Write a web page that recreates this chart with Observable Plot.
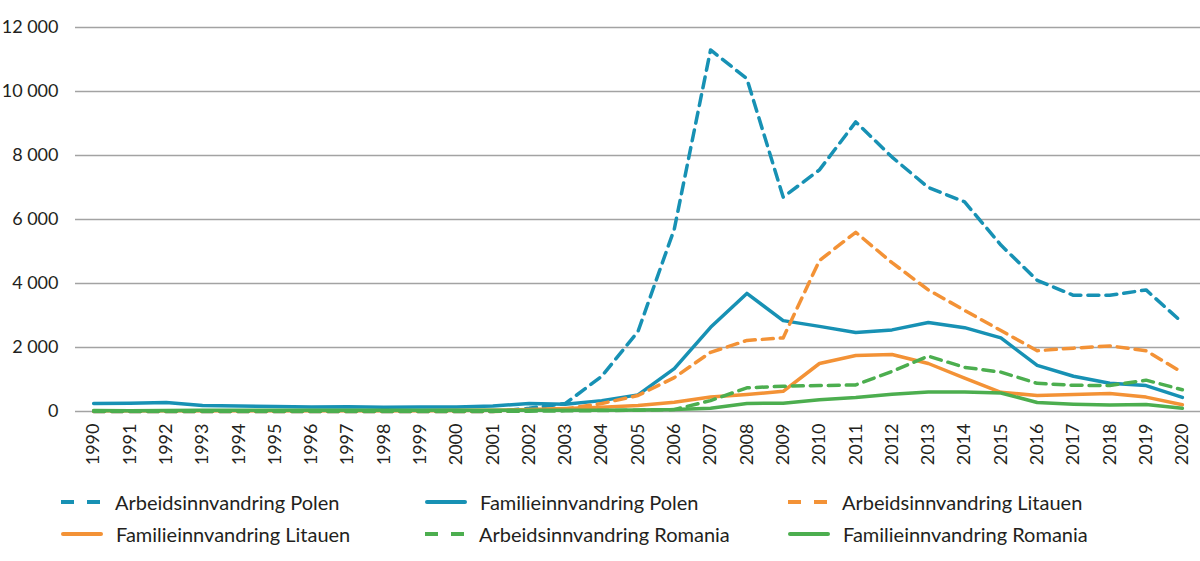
<!DOCTYPE html>
<html>
<head>
<meta charset="utf-8">
<script src="https://cdn.jsdelivr.net/npm/d3@7"></script>
<script src="https://cdn.jsdelivr.net/npm/@observablehq/plot@0.6"></script>
<style>
  html, body { margin: 0; padding: 0; background: #fff; }
  body { width: 1200px; height: 561px; overflow: hidden; font-family: Lato, "Open Sans", sans-serif; }
  #chart svg { display: block; }
  #legend { position: relative; height: 91px; font-size: 20px; color: #231f20; }
  .item { position: absolute; display: flex; align-items: center; white-space: nowrap; }
  .sw { width: 40px; height: 4px; margin-right: 14px; border-radius: 2px; }
</style>
</head>
<body>
<div id="chart"></div>
<div id="legend"></div>
<script>
const years = d3.range(1990, 2021);
const seriesNames = [
  "Arbeidsinnvandring Polen",
  "Familieinnvandring Polen",
  "Arbeidsinnvandring Litauen",
  "Familieinnvandring Litauen",
  "Arbeidsinnvandring Romania",
  "Familieinnvandring Romania"
];
const arbeidPolen = [0,0,0,0,0,0,0,0,0,0,0,0,100,250,1100,2500,5700,11300,10400,6700,7550,9050,7950,7000,6550,5200,4100,3630,3630,3800,2780];
const familiePolen = [250,260,280,190,170,160,140,150,130,140,140,170,250,230,340,520,1340,2630,3690,2840,2660,2470,2550,2780,2620,2300,1440,1100,880,810,440];
const arbeidLitauen = [0,0,0,0,0,0,0,0,0,0,0,0,30,80,250,500,1060,1850,2220,2300,4720,5600,4650,3800,3160,2530,1900,1980,2050,1900,1220];
const familieLitauen = [20,20,20,20,20,20,20,20,20,20,30,40,60,90,130,190,290,450,530,630,1500,1750,1780,1500,1040,600,500,530,560,450,210];
const arbeidRomania = [10,10,10,10,10,10,10,10,10,10,10,10,10,20,30,40,60,340,740,790,810,830,1250,1730,1380,1230,880,820,810,980,680];
const familieRomania = [30,20,30,40,40,40,40,40,40,40,40,40,40,40,40,50,60,100,250,260,370,440,540,610,610,580,280,230,200,220,100];
const yTicks = [0, 2000, 4000, 6000, 8000, 10000, 12000];

const colors = ["#1791b4", "#1791b4", "#f39236", "#f39236", "#4cae4f", "#4cae4f"];
const dashed = [true, false, true, false, true, false];
const values = [arbeidPolen, familiePolen, arbeidLitauen, familieLitauen, arbeidRomania, familieRomania];

const rows = seriesNames.map((name, i) => years.map((y, j) => ({series: name, year: y, value: values[i][j]})));

const fmtNum = v => v === 0 ? "0" : String(v).replace(/(\d)(?=(\d{3})+$)/g, "$1 ");

const plot = Plot.plot({
  width: 1200,
  height: 470,
  marginTop: 27,
  marginLeft: 75,
  marginRight: 0,
  marginBottom: 59,
  style: {fontFamily: "Lato, 'Open Sans', sans-serif", fontSize: "18px", color: "#231f20"},
  x: {domain: [1989.5, 2020.5], label: null},
  y: {domain: [0, 12000], label: null},
  marks: [
    Plot.ruleY(yTicks, {stroke: "#a3a3a3", strokeWidth: 1.6}),
    Plot.axisX({ticks: years, tickFormat: d => String(d), tickRotate: -90, tickSize: 0, tickPadding: 12, fontSize: 18, label: null}),
    Plot.axisY({ticks: yTicks, tickFormat: fmtNum, tickSize: 0, tickPadding: 17, fontSize: 18, label: null}),
    ...rows.map((r, i) => Plot.line(r, {
      x: "year", y: "value", stroke: colors[i], strokeWidth: 3.5,
      strokeDasharray: dashed[i] ? "11,7" : null
    }))
  ]
});
document.getElementById("chart").appendChild(plot);

const legend = document.getElementById("legend");
const colX = [61, 425, 788];
const rowY = [32, 64];
seriesNames.forEach((name, i) => {
  const it = document.createElement("div");
  it.className = "item";
  it.style.left = colX[i % 3] + "px";
  it.style.top = (rowY[Math.floor(i / 3)] - 12) + "px";
  it.style.height = "24px";
  const sw = document.createElement("div");
  sw.className = "sw";
  if (dashed[i]) {
    sw.style.background = `repeating-linear-gradient(to right, ${colors[i]} 0 13px, transparent 13px 26px)`;
    sw.style.width = "39px";
    sw.style.marginRight = "15px";
    sw.style.borderRadius = "0";
  } else {
    sw.style.background = colors[i];
    sw.style.width = "42px";
    sw.style.marginRight = "13px";
  }
  const t = document.createElement("span");
  t.textContent = name;
  it.appendChild(sw);
  it.appendChild(t);
  legend.appendChild(it);
});
</script>
</body>
</html>
